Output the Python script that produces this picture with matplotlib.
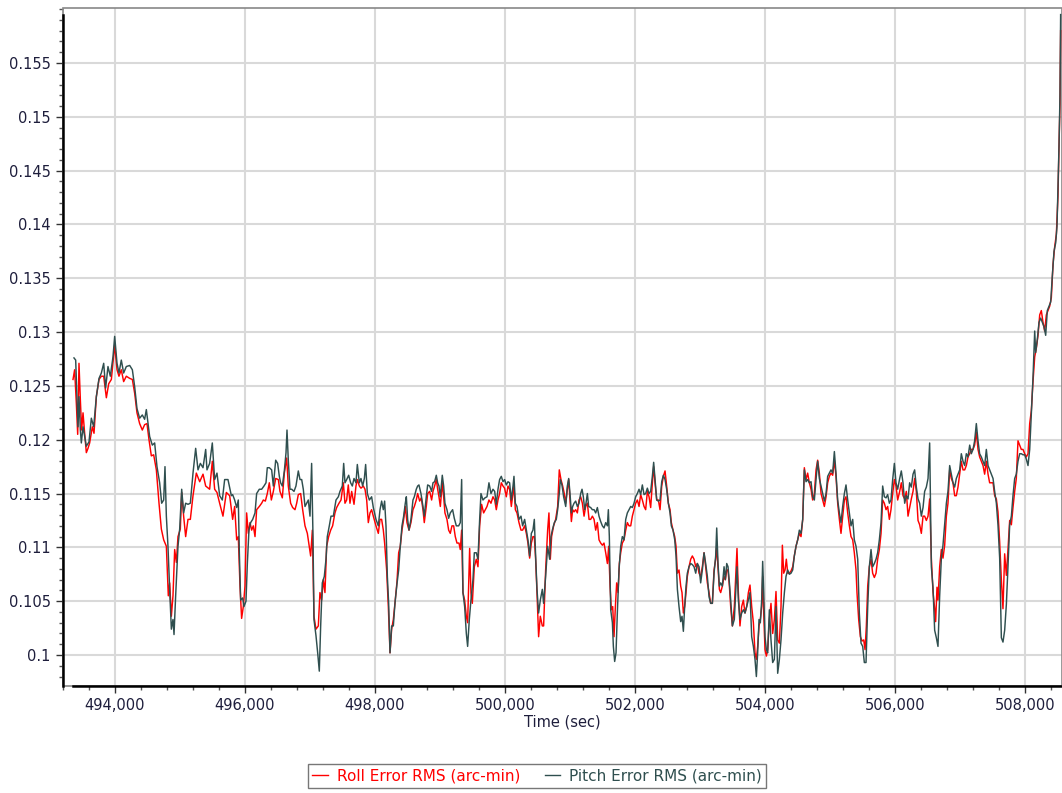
import matplotlib
matplotlib.use("Agg")
import matplotlib.pyplot as plt
from matplotlib.ticker import MultipleLocator, FuncFormatter
from matplotlib.patches import Rectangle
from matplotlib.lines import Line2D

# ---- data -------------------------------------------------------------
roll_t = [
    493354, 493379, 493405, 493426, 493446, 493467, 493487, 493508, 493533, 493559,
    493585, 493610, 493651, 493677, 493713, 493754, 493790, 493826, 493867, 493903,
    493944, 493995, 494031, 494061, 494097, 494133, 494174, 494226, 494267, 494303,
    494338, 494379, 494420, 494456, 494492, 494523, 494559, 494595, 494636, 494677,
    494713, 494749, 494790, 494820, 494841, 494867, 494892, 494918, 494944, 494969,
    495005, 495026, 495056, 495087, 495123, 495159, 495200, 495251, 495303, 495354,
    495395, 495456, 495497, 495533, 495569, 495610, 495661, 495713, 495764,
    495810, 495841, 495872, 495897, 495923, 495948, 495974, 496000, 496025, 496051,
    496077, 496102, 496128, 496154, 496179, 496220, 496256, 496282, 496313, 496343,
    496374, 496405, 496436, 496472, 496513, 496538, 496574, 496605, 496641, 496666,
    496702, 496733, 496769, 496795, 496820, 496856, 496887, 496923, 496959, 496989,
    497010, 497036, 497061, 497092, 497128, 497153, 497179, 497205, 497230, 497256,
    497287, 497318, 497348, 497384, 497410, 497446, 497477, 497513, 497538, 497564,
    497589, 497615, 497641, 497677, 497707, 497728, 497759, 497784, 497820, 497846,
    497872, 497897, 497923, 497948, 497974, 498015, 498051, 498077, 498102, 498128,
    498148, 498179, 498205, 498231, 498256, 498282, 498307,
    498338, 498364, 498389, 498415, 498441, 498466, 498492, 498523, 498553, 498584,
    498605, 498635, 498656, 498687, 498712, 498738, 498758, 498789, 498810, 498841,
    498871, 498892, 498917, 498943, 498964, 498984, 499005, 499035, 499056, 499076,
    499107, 499133, 499158, 499184, 499210, 499235, 499261, 499292, 499312, 499333,
    499353, 499379, 499405, 499425, 499456, 499476, 499497, 499528, 499558, 499584,
    499610, 499640, 499671, 499697, 499723, 499753, 499784, 499815, 499841, 499866,
    499892, 499917, 499943, 499969, 499994, 500020, 500046, 500071, 500097, 500123,
    500138, 500159, 500184, 500215, 500246, 500271, 500302, 500328, 500353, 500379,
    500405, 500430, 500451, 500471, 500492, 500517, 500543, 500574, 500594, 500625,
    500656, 500676, 500697, 500717, 500748, 500779, 500810, 500835, 500861, 500887,
    500912,
    500934, 500959, 500980, 501000, 501021, 501041, 501062, 501087, 501113, 501139,
    501164, 501190, 501216, 501241, 501267, 501293, 501318, 501344, 501370, 501395,
    501421, 501446, 501472, 501498, 501523, 501549, 501575, 501595, 501616, 501636,
    501657, 501677, 501698, 501718, 501739, 501759, 501780, 501805, 501831, 501857,
    501882, 501908, 501934, 501959, 501985, 502010, 502036, 502062, 502087, 502113,
    502139, 502164, 502190, 502216, 502241, 502267, 502287, 502308, 502334, 502359,
    502385, 502411, 502436, 502462, 502487, 502513, 502539, 502559, 502585, 502611,
    502631, 502652, 502677, 502703, 502723, 502744, 502764, 502785, 502805, 502831,
    502857, 502882, 502908, 502934, 502959, 502985, 503010, 503036, 503062, 503087,
    503113, 503139, 503164, 503190, 503216, 503241, 503257, 503277, 503298, 503318,
    503344, 503370, 503390, 503411, 503431, 503452, 503472, 503498,
    503528, 503554, 503569, 503590, 503615, 503641, 503667, 503692, 503718, 503744,
    503769, 503795, 503821, 503846, 503867, 503887, 503908, 503928, 503949, 503964,
    503980, 504000, 504021, 504041, 504067, 504092, 504118, 504144, 504169, 504195,
    504221, 504246, 504267, 504287, 504308, 504328, 504349, 504374, 504400, 504426,
    504451, 504477, 504503, 504528, 504554, 504580, 504605, 504631, 504656, 504682,
    504708, 504733, 504759, 504785, 504810, 504836, 504862, 504887, 504913, 504939,
    504964, 504990, 505015, 505041, 505067, 505092, 505118, 505144, 505169, 505195,
    505221, 505246, 505272, 505298, 505323, 505349, 505374, 505400, 505415, 505441,
    505467, 505492, 505518, 505539, 505559, 505580, 505605, 505631, 505656, 505682,
    505708, 505733, 505759, 505785, 505810, 505836, 505862, 505887, 505913, 505938,
    505964, 505990, 506015, 506041,
    506072, 506097, 506123, 506149, 506174, 506200, 506225, 506251, 506277, 506302,
    506328, 506354, 506379, 506405, 506431, 506456, 506482, 506508, 506533, 506559,
    506584, 506610, 506625, 506646, 506661, 506687, 506713, 506738, 506764, 506790,
    506815, 506841, 506866, 506892, 506918, 506943, 506969, 506995, 507020, 507046,
    507072, 507097, 507123, 507149, 507174, 507200, 507225, 507251, 507277, 507302,
    507328, 507354, 507379, 507405, 507431, 507456, 507482, 507508, 507533, 507559,
    507584, 507610, 507636, 507661, 507687, 507713, 507738, 507764, 507790, 507815,
    507841, 507866, 507892, 507918, 507943, 507969, 507995, 508020, 508046, 508072,
    508097, 508123, 508149, 508174, 508200, 508226, 508251, 508277, 508302, 508328,
    508354, 508379, 508405, 508431, 508456, 508482, 508507, 508523, 508538, 508548,
]
roll_v = [
    0.1256, 0.1265, 0.1234, 0.1205, 0.1271, 0.1237, 0.1209, 0.1225, 0.1206, 0.1188,
    0.1192, 0.1197, 0.1212, 0.1206, 0.1240, 0.1256, 0.1259, 0.1259, 0.1239, 0.1252,
    0.1256, 0.1288, 0.1265, 0.1259, 0.1265, 0.1254, 0.1259, 0.1257, 0.1256, 0.1243,
    0.1225, 0.1215, 0.1209, 0.1214, 0.1215, 0.1200, 0.1185, 0.1186, 0.1172, 0.1141,
    0.1117, 0.1107, 0.1101, 0.1055, 0.1067, 0.1036, 0.1055, 0.1098, 0.1086, 0.1110,
    0.1117, 0.1151, 0.1129, 0.1110, 0.1126, 0.1126, 0.1148, 0.1169, 0.1161, 0.1168,
    0.1157, 0.1154, 0.1180, 0.1154, 0.1151, 0.1141, 0.1129, 0.1151, 0.1148,
    0.1126, 0.1138, 0.1107, 0.1110, 0.1064, 0.1034, 0.1045, 0.1064, 0.1132, 0.1113,
    0.1123, 0.1116, 0.1120, 0.1110, 0.1135, 0.1138, 0.1141, 0.1144, 0.1143, 0.1150,
    0.1160, 0.1144, 0.1152, 0.1164, 0.1163, 0.1152, 0.1146, 0.1169, 0.1183, 0.1157,
    0.1141, 0.1137, 0.1135, 0.1141, 0.1149, 0.1150, 0.1135, 0.1120, 0.1113, 0.1101,
    0.1092, 0.1116, 0.1036, 0.1024, 0.1027, 0.1058, 0.1051, 0.1070, 0.1058, 0.1101,
    0.1110, 0.1116, 0.1120, 0.1132, 0.1137, 0.1141, 0.1144, 0.1160, 0.1141, 0.1144,
    0.1158, 0.1141, 0.1152, 0.1140, 0.1157, 0.1163, 0.1157, 0.1155, 0.1157, 0.1154,
    0.1144, 0.1123, 0.1132, 0.1135, 0.1129, 0.1120, 0.1113, 0.1126, 0.1126, 0.1116,
    0.1104, 0.1079, 0.1045, 0.1002, 0.1024, 0.1033, 0.1048,
    0.1068, 0.1095, 0.1101, 0.1116, 0.1126, 0.1138, 0.1123, 0.1116, 0.1123, 0.1135,
    0.1138, 0.1144, 0.1150, 0.1143, 0.1146, 0.1135, 0.1123, 0.1138, 0.1150, 0.1152,
    0.1144, 0.1152, 0.1157, 0.1163, 0.1154, 0.1147, 0.1138, 0.1160, 0.1147, 0.1132,
    0.1126, 0.1116, 0.1113, 0.1120, 0.1120, 0.1110, 0.1104, 0.1104, 0.1098, 0.1116,
    0.1058, 0.1051, 0.1036, 0.1030, 0.1099, 0.1058, 0.1048, 0.1082, 0.1089, 0.1082,
    0.1120, 0.1140, 0.1132, 0.1135, 0.1138, 0.1144, 0.1141, 0.1147, 0.1144, 0.1135,
    0.1144, 0.1150, 0.1160, 0.1157, 0.1155, 0.1147, 0.1157, 0.1154, 0.1138, 0.1150,
    0.1157, 0.1135, 0.1132, 0.1123, 0.1116, 0.1116, 0.1120, 0.1113, 0.1104, 0.1090,
    0.1104, 0.1110, 0.1110, 0.1089, 0.1058, 0.1017, 0.1036, 0.1027, 0.1027, 0.1079,
    0.1116, 0.1132, 0.1089, 0.1110, 0.1120, 0.1126, 0.1138, 0.1172, 0.1163, 0.1157,
    0.1150,
    0.1141, 0.1154, 0.1163, 0.1144, 0.1124, 0.1135, 0.1133, 0.1135, 0.1132, 0.1144,
    0.1147, 0.1141, 0.1129, 0.1138, 0.1141, 0.1126, 0.1126, 0.1129, 0.1126, 0.1116,
    0.1123, 0.1107, 0.1104, 0.1102, 0.1104, 0.1095, 0.1085, 0.1101, 0.1064, 0.1042,
    0.1045, 0.1017, 0.1045, 0.1067, 0.1058, 0.1085, 0.1095, 0.1104, 0.1107, 0.1116,
    0.1123, 0.1120, 0.1120, 0.1129, 0.1135, 0.1141, 0.1144, 0.1138, 0.1149, 0.1144,
    0.1138, 0.1135, 0.1152, 0.1147, 0.1137, 0.1160, 0.1175, 0.1160, 0.1144, 0.1144,
    0.1135, 0.1157, 0.1166, 0.1171, 0.1157, 0.1141, 0.1135, 0.1123, 0.1116, 0.1110,
    0.1101, 0.1076, 0.1079, 0.1064, 0.1058, 0.1039, 0.1045, 0.1058, 0.1073, 0.1082,
    0.1089, 0.1092, 0.1089, 0.1082, 0.1085, 0.1076, 0.1073, 0.1082, 0.1095, 0.1082,
    0.1067, 0.1058, 0.1048, 0.1048, 0.1079, 0.1089, 0.1101, 0.1082, 0.1061, 0.1058,
    0.1064, 0.1073, 0.1070, 0.1079, 0.1079, 0.1064, 0.1045, 0.1027,
    0.1045, 0.1079, 0.1099, 0.1058, 0.1027, 0.1045, 0.1051, 0.1039, 0.1045, 0.1058,
    0.1065, 0.1045, 0.1030, 0.1002, 0.0996, 0.1008, 0.1027, 0.1033, 0.1045, 0.1073,
    0.1039, 0.1005, 0.0999, 0.1005, 0.1033, 0.1048, 0.1020, 0.1033, 0.1059, 0.1014,
    0.1011, 0.1045, 0.1102, 0.1076, 0.1079, 0.1089, 0.1076, 0.1076, 0.1078, 0.1082,
    0.1092, 0.1101, 0.1107, 0.1113, 0.1110, 0.1126, 0.1174, 0.1163, 0.1169, 0.1160,
    0.1154, 0.1144, 0.1150, 0.1172, 0.1181, 0.1169, 0.1150, 0.1144, 0.1138, 0.1147,
    0.1160, 0.1166, 0.1169, 0.1167, 0.1181, 0.1166, 0.1141, 0.1126, 0.1113, 0.1129,
    0.1144, 0.1147, 0.1132, 0.1120, 0.1110, 0.1107, 0.1095, 0.1079, 0.1058, 0.1033,
    0.1017, 0.1013, 0.1014, 0.1005, 0.1027, 0.1064, 0.1082, 0.1089, 0.1076, 0.1072,
    0.1076, 0.1089, 0.1098, 0.1113, 0.1144, 0.1141, 0.1135, 0.1138, 0.1126, 0.1135,
    0.1150, 0.1163, 0.1157, 0.1144,
    0.1152, 0.1160, 0.1148, 0.1145, 0.1152, 0.1129, 0.1137, 0.1145, 0.1152, 0.1164,
    0.1152, 0.1125, 0.1121, 0.1113, 0.1129, 0.1129, 0.1125, 0.1129, 0.1145, 0.1090,
    0.1059, 0.1043, 0.1031, 0.1063, 0.1051, 0.1082, 0.1098, 0.1090, 0.1102, 0.1129,
    0.1141, 0.1172, 0.1164, 0.1160, 0.1148, 0.1148, 0.1156, 0.1168, 0.1180, 0.1172,
    0.1172, 0.1176, 0.1184, 0.1187, 0.1191, 0.1191, 0.1195, 0.1207, 0.1191, 0.1184,
    0.1180, 0.1176, 0.1168, 0.1180, 0.1168, 0.1160, 0.1160, 0.1160, 0.1148, 0.1145,
    0.1133, 0.1105, 0.1070, 0.1043, 0.1094, 0.1074, 0.1098, 0.1125, 0.1121, 0.1137,
    0.1152, 0.1164, 0.1199, 0.1195, 0.1191, 0.1191, 0.1187, 0.1184, 0.1187, 0.1215,
    0.1227, 0.1254, 0.1277, 0.1285, 0.1297, 0.1316, 0.1320, 0.1309, 0.1301, 0.1316,
    0.1320, 0.1324, 0.1332, 0.1363, 0.1379, 0.1391, 0.1426, 0.1473, 0.1512, 0.1580,
]

pitch_t = [
    493369, 493395, 493431, 493446, 493467, 493482, 493508, 493533, 493559, 493600,
    493636, 493672, 493713, 493754, 493790, 493826, 493856, 493892, 493928, 493969,
    493995, 494031, 494061, 494097, 494133, 494174, 494226, 494267, 494303, 494338,
    494379, 494420, 494456, 494482, 494508, 494533, 494574, 494610, 494646, 494687,
    494718, 494749, 494769, 494790, 494815, 494841, 494867, 494892, 494908, 494933,
    494969, 494995, 495026, 495056, 495087, 495123, 495159, 495200, 495241, 495277,
    495313, 495354, 495395, 495415, 495456, 495497, 495533, 495569, 495610, 495651,
    495687, 495738, 495790,
    495810, 495841, 495872, 495897, 495913, 495933, 495964, 495984, 496015, 496036,
    496061, 496087, 496118, 496154, 496179, 496220, 496256, 496292, 496323, 496343,
    496374, 496410, 496436, 496472, 496502, 496528, 496548, 496574, 496605, 496631,
    496646, 496666, 496692, 496718, 496754, 496784, 496820, 496846, 496872, 496897,
    496923, 496948, 496974, 497000, 497025, 497046, 497061, 497092, 497118, 497143,
    497164, 497189, 497220, 497246, 497266, 497297, 497323, 497359, 497400, 497436,
    497461, 497497, 497518, 497538, 497564, 497595, 497625, 497651, 497677, 497707,
    497728, 497759, 497784, 497810, 497836, 497856, 497882, 497913, 497948, 497974,
    498015, 498051, 498077, 498102, 498128, 498148, 498169, 498190, 498210, 498231,
    498256, 498282, 498307,
    498338, 498364, 498389, 498415, 498441, 498466, 498482, 498502, 498523, 498553,
    498584, 498605, 498635, 498656, 498676, 498707, 498738, 498758, 498789, 498810,
    498841, 498871, 498892, 498917, 498943, 498964, 498984, 499005, 499035, 499056,
    499076, 499107, 499133, 499158, 499194, 499220, 499251, 499287, 499312, 499333,
    499353, 499379, 499405, 499425, 499451, 499476, 499507, 499528, 499558, 499584,
    499610, 499630, 499661, 499692, 499723, 499753, 499784, 499815, 499841, 499866,
    499892, 499917, 499943, 499969, 499994, 500020, 500046, 500071, 500097, 500123,
    500138, 500159, 500184, 500215, 500246, 500271, 500302, 500328, 500353, 500379,
    500405, 500430, 500451, 500471, 500492, 500517, 500543, 500574, 500594, 500625,
    500656, 500687, 500707, 500728, 500759, 500789, 500810, 500835, 500851, 500876,
    500902,
    500934, 500959, 500980, 501000, 501021, 501041, 501062, 501087, 501113, 501139,
    501164, 501185, 501205, 501226, 501246, 501267, 501287, 501318, 501344, 501370,
    501395, 501421, 501446, 501472, 501498, 501523, 501549, 501575, 501590, 501605,
    501626, 501652, 501667, 501687, 501708, 501728, 501754, 501780, 501805, 501831,
    501857, 501882, 501908, 501934, 501959, 501985, 502010, 502036, 502062, 502087,
    502113, 502139, 502164, 502190, 502216, 502241, 502267, 502287, 502308, 502334,
    502359, 502385, 502411, 502436, 502462, 502487, 502513, 502539, 502559, 502585,
    502611, 502631, 502652, 502677, 502703, 502723, 502744, 502764, 502785, 502805,
    502831, 502857, 502882, 502908, 502934, 502959, 502985, 503010, 503036, 503062,
    503087, 503113, 503139, 503164, 503190, 503216, 503241, 503257, 503277, 503298,
    503318, 503344, 503370, 503390, 503411, 503431, 503452, 503472, 503498,
    503528, 503554, 503569, 503590, 503615, 503641, 503667, 503692, 503718, 503744,
    503769, 503795, 503821, 503846, 503867, 503887, 503908, 503928, 503949, 503964,
    503980, 504000, 504021, 504041, 504067, 504092, 504118, 504144, 504169, 504195,
    504221, 504246, 504272, 504298, 504323, 504349, 504374, 504400, 504426, 504451,
    504477, 504503, 504528, 504554, 504580, 504605, 504631, 504656, 504682, 504708,
    504733, 504759, 504785, 504810, 504836, 504862, 504887, 504913, 504939, 504964,
    504990, 505015, 505041, 505067, 505092, 505118, 505144, 505169, 505195, 505221,
    505246, 505272, 505298, 505323, 505349, 505374, 505400, 505426, 505451, 505477,
    505503, 505528, 505554, 505580, 505605, 505631, 505656, 505682, 505708, 505733,
    505759, 505785, 505810, 505836, 505862, 505887, 505913, 505938, 505964, 505990,
    506015, 506041,
    506072, 506097, 506123, 506149, 506174, 506200, 506225, 506251, 506277, 506302,
    506328, 506354, 506379, 506405, 506431, 506456, 506482, 506508, 506533, 506559,
    506584, 506610, 506636, 506661, 506687, 506713, 506738, 506764, 506790, 506815,
    506841, 506866, 506892, 506918, 506943, 506969, 506995, 507020, 507046, 507072,
    507097, 507123, 507149, 507174, 507200, 507225, 507251, 507277, 507302, 507328,
    507354, 507379, 507405, 507431, 507456, 507482, 507508, 507533, 507559, 507584,
    507610, 507636, 507661, 507687, 507713, 507738, 507764, 507790, 507815, 507841,
    507866, 507892, 507918, 507943, 507969, 507995, 508020, 508046, 508072, 508097,
    508123, 508149, 508164, 508189, 508215, 508241, 508266, 508292, 508318, 508343,
    508369, 508395, 508420, 508446, 508472, 508492, 508507, 508523, 508538, 508548,
]
pitch_v = [
    0.1276, 0.1274, 0.1212, 0.1240, 0.1209, 0.1197, 0.1212, 0.1203, 0.1194, 0.1198,
    0.1220, 0.1212, 0.1240, 0.1257, 0.1262, 0.1271, 0.1248, 0.1268, 0.1259, 0.1277,
    0.1296, 0.1271, 0.1262, 0.1274, 0.1262, 0.1268, 0.1269, 0.1265, 0.1249, 0.1229,
    0.1220, 0.1223, 0.1219, 0.1228, 0.1215, 0.1203, 0.1195, 0.1197, 0.1175, 0.1160,
    0.1141, 0.1144, 0.1175, 0.1129, 0.1101, 0.1061, 0.1024, 0.1033, 0.1019, 0.1055,
    0.1101, 0.1117, 0.1154, 0.1132, 0.1141, 0.1140, 0.1141, 0.1169, 0.1192, 0.1172,
    0.1178, 0.1174, 0.1191, 0.1172, 0.1178, 0.1197, 0.1163, 0.1169, 0.1148, 0.1144,
    0.1163, 0.1163, 0.1148,
    0.1149, 0.1144, 0.1137, 0.1144, 0.1095, 0.1051, 0.1053, 0.1045, 0.1050, 0.1085,
    0.1116, 0.1123, 0.1126, 0.1132, 0.1150, 0.1154, 0.1154, 0.1157, 0.1160, 0.1174,
    0.1174, 0.1172, 0.1157, 0.1181, 0.1178, 0.1166, 0.1160, 0.1157, 0.1171, 0.1188,
    0.1209, 0.1181, 0.1154, 0.1154, 0.1152, 0.1157, 0.1171, 0.1163, 0.1163, 0.1154,
    0.1138, 0.1141, 0.1144, 0.1129, 0.1178, 0.1110, 0.1033, 0.1018, 0.1002, 0.0985,
    0.1027, 0.1067, 0.1073, 0.1089, 0.1110, 0.1120, 0.1129, 0.1129, 0.1144, 0.1147,
    0.1152, 0.1157, 0.1178, 0.1160, 0.1163, 0.1167, 0.1160, 0.1157, 0.1164, 0.1160,
    0.1177, 0.1160, 0.1164, 0.1157, 0.1164, 0.1177, 0.1150, 0.1144, 0.1147, 0.1137,
    0.1126, 0.1120, 0.1135, 0.1143, 0.1135, 0.1143, 0.1120, 0.1073, 0.1048, 0.1002,
    0.1027, 0.1027, 0.1048,
    0.1066, 0.1079, 0.1101, 0.1120, 0.1129, 0.1141, 0.1147, 0.1126, 0.1116, 0.1126,
    0.1144, 0.1147, 0.1154, 0.1157, 0.1158, 0.1150, 0.1138, 0.1129, 0.1147, 0.1158,
    0.1157, 0.1152, 0.1160, 0.1161, 0.1167, 0.1160, 0.1157, 0.1147, 0.1167, 0.1157,
    0.1141, 0.1135, 0.1127, 0.1132, 0.1135, 0.1127, 0.1120, 0.1120, 0.1123, 0.1163,
    0.1058, 0.1045, 0.1020, 0.1008, 0.1033, 0.1051, 0.1070, 0.1095, 0.1095, 0.1089,
    0.1126, 0.1150, 0.1144, 0.1146, 0.1147, 0.1160, 0.1150, 0.1154, 0.1152, 0.1140,
    0.1154, 0.1163, 0.1166, 0.1161, 0.1163, 0.1158, 0.1161, 0.1160, 0.1144, 0.1157,
    0.1166, 0.1141, 0.1138, 0.1126, 0.1129, 0.1120, 0.1126, 0.1116, 0.1107, 0.1092,
    0.1113, 0.1116, 0.1126, 0.1092, 0.1061, 0.1039, 0.1051, 0.1061, 0.1048, 0.1073,
    0.1101, 0.1089, 0.1110, 0.1116, 0.1123, 0.1126, 0.1135, 0.1150, 0.1163, 0.1158,
    0.1147,
    0.1138, 0.1157, 0.1164, 0.1150, 0.1132, 0.1138, 0.1141, 0.1143, 0.1138, 0.1141,
    0.1150, 0.1154, 0.1147, 0.1135, 0.1141, 0.1150, 0.1138, 0.1137, 0.1135, 0.1135,
    0.1132, 0.1137, 0.1129, 0.1124, 0.1120, 0.1118, 0.1123, 0.1120, 0.1135, 0.1110,
    0.1042, 0.1030, 0.1008, 0.0994, 0.1002, 0.1039, 0.1079, 0.1101, 0.1110, 0.1107,
    0.1126, 0.1132, 0.1135, 0.1138, 0.1137, 0.1141, 0.1147, 0.1150, 0.1154, 0.1149,
    0.1158, 0.1149, 0.1150, 0.1155, 0.1150, 0.1152, 0.1166, 0.1179, 0.1163, 0.1144,
    0.1143, 0.1144, 0.1161, 0.1167, 0.1163, 0.1154, 0.1141, 0.1132, 0.1120, 0.1116,
    0.1107, 0.1092, 0.1061, 0.1045, 0.1031, 0.1036, 0.1022, 0.1045, 0.1064, 0.1076,
    0.1082, 0.1085, 0.1084, 0.1082, 0.1076, 0.1085, 0.1082, 0.1067, 0.1079, 0.1095,
    0.1085, 0.1073, 0.1054, 0.1048, 0.1048, 0.1076, 0.1092, 0.1118, 0.1085, 0.1064,
    0.1067, 0.1064, 0.1082, 0.1070, 0.1085, 0.1082, 0.1067, 0.1051, 0.1027,
    0.1033, 0.1064, 0.1082, 0.1051, 0.1033, 0.1039, 0.1042, 0.1039, 0.1045, 0.1051,
    0.1058, 0.1017, 0.1008, 0.0996, 0.0980, 0.1002, 0.1033, 0.1030, 0.1051, 0.1087,
    0.1058, 0.1017, 0.1005, 0.1002, 0.1042, 0.1014, 0.0993, 0.0996, 0.1045, 0.0983,
    0.0996, 0.1014, 0.1039, 0.1058, 0.1073, 0.1079, 0.1075, 0.1076, 0.1079, 0.1092,
    0.1101, 0.1107, 0.1116, 0.1113, 0.1126, 0.1172, 0.1161, 0.1163, 0.1160, 0.1161,
    0.1147, 0.1144, 0.1163, 0.1180, 0.1164, 0.1157, 0.1150, 0.1143, 0.1150, 0.1166,
    0.1169, 0.1172, 0.1169, 0.1189, 0.1169, 0.1144, 0.1132, 0.1123, 0.1138, 0.1150,
    0.1158, 0.1144, 0.1132, 0.1120, 0.1126, 0.1107, 0.1101, 0.1089, 0.1039, 0.1011,
    0.1008, 0.0993, 0.0993, 0.1045, 0.1082, 0.1098, 0.1082, 0.1085, 0.1089, 0.1095,
    0.1107, 0.1123, 0.1157, 0.1147, 0.1146, 0.1149, 0.1141, 0.1144, 0.1163, 0.1178,
    0.1160, 0.1154,
    0.1164, 0.1171, 0.1160, 0.1141, 0.1148, 0.1145, 0.1160, 0.1156, 0.1168, 0.1172,
    0.1156, 0.1145, 0.1141, 0.1129, 0.1137, 0.1152, 0.1156, 0.1164, 0.1197, 0.1082,
    0.1063, 0.1023, 0.1016, 0.1008, 0.1055, 0.1090, 0.1102, 0.1121, 0.1141, 0.1152,
    0.1176, 0.1168, 0.1160, 0.1156, 0.1164, 0.1168, 0.1172, 0.1187, 0.1180, 0.1176,
    0.1187, 0.1184, 0.1195, 0.1187, 0.1191, 0.1199, 0.1215, 0.1199, 0.1187, 0.1184,
    0.1180, 0.1176, 0.1191, 0.1176, 0.1172, 0.1168, 0.1164, 0.1152, 0.1141, 0.1121,
    0.1090, 0.1016, 0.1012, 0.1023, 0.1047, 0.1082, 0.1121, 0.1129, 0.1148, 0.1164,
    0.1168, 0.1180, 0.1187, 0.1187, 0.1186, 0.1186, 0.1182, 0.1176, 0.1191, 0.1223,
    0.1258, 0.1301, 0.1281, 0.1293, 0.1309, 0.1313, 0.1309, 0.1305, 0.1297, 0.1320,
    0.1324, 0.1328, 0.1352, 0.1375, 0.1383, 0.1398, 0.1434, 0.1473, 0.1520, 0.1595,
]

y_ticks = [0.1, 0.105, 0.11, 0.115, 0.12, 0.125, 0.13, 0.135, 0.14, 0.145, 0.15, 0.155]
x_ticks = [494000, 496000, 498000, 500000, 502000, 504000, 506000, 508000]

roll_label = "Roll Error RMS (arc-min)"
pitch_label = "Pitch Error RMS (arc-min)"
x_title = "Time (sec)"

# ---- styling ----------------------------------------------------------
ROLL_COLOR = "#ff0000"
PITCH_COLOR = "#2f4f4f"
TEXT_COLOR = "#1e1e3c"
GRID_COLOR = "#d9d9d9"

plt.rcParams["font.family"] = ["DejaVu Sans"]

W, H, DPI = 1062, 793, 100
fig = plt.figure(figsize=(W / DPI, H / DPI), dpi=DPI)
ax = fig.add_axes([63 / W, 1 - 686 / H, (1062 - 63) / W, (686 - 8) / H])

ax.plot(roll_t, roll_v, color=ROLL_COLOR, lw=1.05, zorder=3)
ax.plot(pitch_t, pitch_v, color=PITCH_COLOR, lw=1.05, zorder=4)

ax.set_xlim(493200, 508569)
ax.set_ylim(0.09712, 0.16011)

ax.set_xticks(x_ticks)
ax.set_yticks(y_ticks)
ax.xaxis.set_minor_locator(MultipleLocator(400))
ax.yaxis.set_minor_locator(MultipleLocator(0.001))
ax.xaxis.set_major_formatter(FuncFormatter(lambda v, p: f"{int(round(v)):,}"))
ax.yaxis.set_major_formatter(FuncFormatter(lambda v, p: f"{v:.3f}".rstrip("0").rstrip(".")))

ax.tick_params(axis="both", which="major", direction="out", length=5, width=1,
               color="#333333", labelsize=10.5, labelcolor=TEXT_COLOR, pad=4)
ax.tick_params(axis="both", which="minor", direction="out", length=3, width=1,
               color="#555555")

ax.grid(True, which="major", color=GRID_COLOR, lw=1.5, zorder=0)
ax.set_axisbelow(True)

# plot-area frame in grey, value axes in black over the data range
for side in ("top", "right"):
    ax.spines[side].set_visible(False)
ax.add_patch(Rectangle((0, 0), 1, 1, transform=ax.transAxes, fill=False,
                       edgecolor="#888888", lw=1.2, clip_on=False, zorder=1))
ax.spines["left"].set_color("black")
ax.spines["left"].set_linewidth(1.8)
ax.spines["left"].set_bounds(0.09712, max(max(pitch_v), max(roll_v)))
ax.spines["bottom"].set_color("black")
ax.spines["bottom"].set_linewidth(1.8)
ax.spines["bottom"].set_bounds(min(min(pitch_t), min(roll_t)), 508569)

ax.set_xlabel(x_title, fontsize=10.5, color=TEXT_COLOR, labelpad=1)

handles = [Line2D([], [], color=ROLL_COLOR, lw=1.0),
           Line2D([], [], color=PITCH_COLOR, lw=1.0)]
leg = fig.legend(handles, [roll_label, pitch_label], loc="center",
                 bbox_to_anchor=(537 / W, 1 - 776 / H), ncol=2, fontsize=11,
                 frameon=True, fancybox=False, edgecolor="#555555",
                 handlelength=1.0, handletextpad=0.6, columnspacing=1.6,
                 borderpad=0.3, labelcolor=[ROLL_COLOR, PITCH_COLOR])
leg.get_frame().set_linewidth(1.0)

fig.savefig("out.png", dpi=DPI)
